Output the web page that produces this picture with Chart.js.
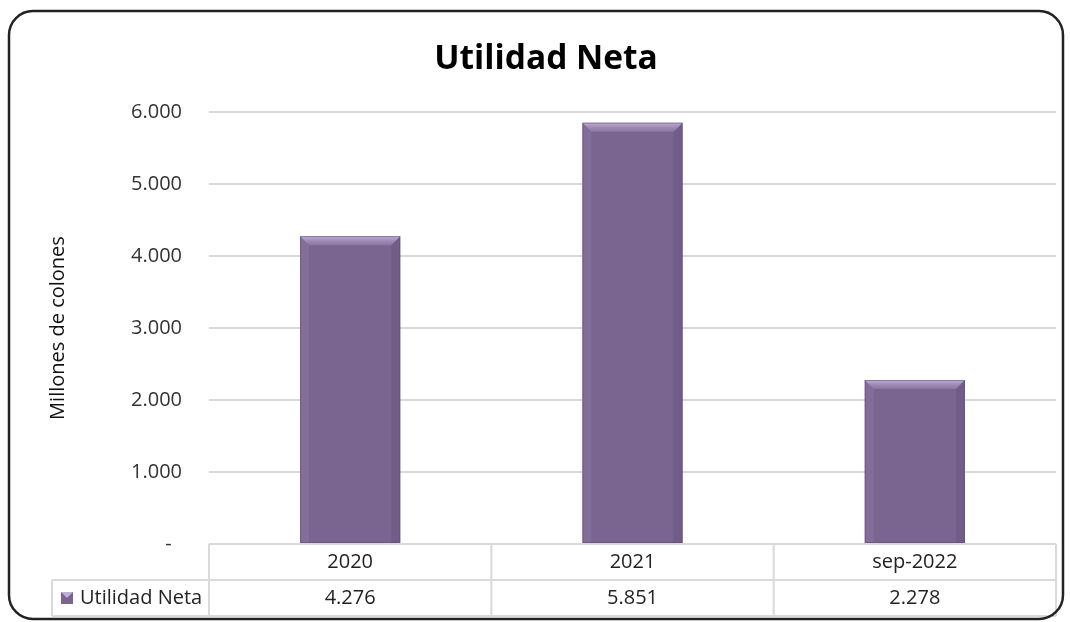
<!DOCTYPE html>
<html>
<head>
<meta charset="utf-8">
<script src="https://cdn.jsdelivr.net/npm/chart.js@4/dist/chart.umd.min.js"></script>
<style>
html, body { margin: 0; padding: 0; background: #fff; }
#wrap { width: 1070px; height: 622px; }
</style>
</head>
<body>
<div id="wrap"><canvas id="myChart" width="1070" height="622"></canvas></div>
<script>
const categories = ['2020', '2021', 'sep-2022'];
const utilidadNeta = [4276, 5851, 2278];
const seriesName = 'Utilidad Neta';
const chartTitle = 'Utilidad Neta';
const yAxisLabel = 'Millones de colones';
const yMax = 6000;
const yStep = 1000;

const FONT = '"Open Sans", "Noto Sans", sans-serif';
const barColor = '#7a6591';
const gridColor = '#d9d9d9';

function fmt(n) {
    if (n === 0) return '-  ';
    return String(Math.round(n)).replace(/\B(?=(\d{3})+(?!\d))/g, '.');
}

// bisel ligero sobre las barras
const bevelPlugin = {
    id: 'bevel',
    afterDatasetsDraw(chart) {
        const ctx = chart.ctx;
        const meta = chart.getDatasetMeta(0);
        meta.data.forEach(bar => {
            const l = bar.x - bar.width / 2, r = bar.x + bar.width / 2;
            const t = bar.y, b = bar.base, d = 9;
            ctx.save();
            const g = ctx.createLinearGradient(0, t, 0, t + d);
            g.addColorStop(0, 'rgba(215,200,235,0.75)');
            g.addColorStop(1, 'rgba(170,150,195,0.35)');
            ctx.fillStyle = g;
            ctx.beginPath();
            ctx.moveTo(l, t); ctx.lineTo(r, t); ctx.lineTo(r - d, t + d); ctx.lineTo(l + d, t + d);
            ctx.closePath(); ctx.fill();
            ctx.fillStyle = 'rgba(170,150,195,0.18)';
            ctx.beginPath();
            ctx.moveTo(l, t); ctx.lineTo(l + d, t + d); ctx.lineTo(l + d, b); ctx.lineTo(l, b);
            ctx.closePath(); ctx.fill();
            ctx.fillStyle = 'rgba(60,40,80,0.12)';
            ctx.beginPath();
            ctx.moveTo(r, t); ctx.lineTo(r - d, t + d); ctx.lineTo(r - d, b); ctx.lineTo(r, b);
            ctx.closePath(); ctx.fill();
            ctx.strokeStyle = 'rgba(90,70,110,0.5)';
            ctx.lineWidth = 1;
            ctx.strokeRect(l + 0.5, t + 0.5, bar.width - 1, b - t - 1);
            ctx.restore();
        });
    }
};

// tabla de datos, titulo y marco
const tablePlugin = {
    id: 'dataTable',
    afterDraw(chart) {
        const ctx = chart.ctx;
        const area = chart.chartArea;
        const xs = chart.scales.x;
        const colW = area.width / categories.length;
        const rowH = 36;
        const top = area.bottom;
        const mid = top + rowH;
        const bot = mid + rowH;
        const legendLeft = 52;

        ctx.save();
        ctx.strokeStyle = gridColor;
        ctx.lineWidth = 2;
        ctx.beginPath();
        ctx.moveTo(area.left, top); ctx.lineTo(area.right, top);
        ctx.moveTo(legendLeft, mid); ctx.lineTo(area.right, mid);
        ctx.moveTo(legendLeft, bot); ctx.lineTo(area.right, bot);
        ctx.moveTo(legendLeft, mid); ctx.lineTo(legendLeft, bot);
        for (let i = 0; i <= categories.length; i++) {
            const x = area.left + i * colW;
            ctx.moveTo(x, top); ctx.lineTo(x, bot);
        }
        ctx.stroke();

        ctx.fillStyle = '#222';
        ctx.font = '20px ' + FONT;
        ctx.textAlign = 'center';
        ctx.textBaseline = 'middle';
        categories.forEach((c, i) => {
            const x = xs.getPixelForValue(i);
            ctx.fillText(c, x, top + rowH / 2);
            ctx.fillText(fmt(utilidadNeta[i]), x, mid + rowH / 2);
        });

        // clave de la serie
        const kx = 61, ky = mid + rowH / 2 - 6;
        ctx.fillStyle = barColor;
        ctx.fillRect(kx, ky, 12, 12);
        ctx.fillStyle = 'rgba(205,190,230,0.85)';
        ctx.beginPath();
        ctx.moveTo(kx, ky); ctx.lineTo(kx + 12, ky); ctx.lineTo(kx + 6, ky + 6);
        ctx.closePath(); ctx.fill();
        ctx.fillStyle = '#222';
        ctx.textAlign = 'left';
        ctx.fillText(seriesName, 80, mid + rowH / 2);

        // titulo
        ctx.fillStyle = '#000';
        ctx.font = 'bold 33.5px ' + FONT;
        ctx.textAlign = 'center';
        ctx.textBaseline = 'alphabetic';
        ctx.fillText(chartTitle, 546, 69);

        // marco redondeado
        ctx.strokeStyle = '#222';
        ctx.lineWidth = 2.5;
        ctx.beginPath();
        ctx.roundRect(9, 11, 1054, 608, 24);
        ctx.stroke();
        ctx.restore();
    }
};

const ctx = document.getElementById('myChart').getContext('2d');
const chart = new Chart(ctx, {
    type: 'bar',
    data: {
        labels: categories,
        datasets: [{
            label: seriesName,
            data: utilidadNeta,
            backgroundColor: barColor,
            borderWidth: 0,
            barPercentage: 0.355,
            categoryPercentage: 1
        }]
    },
    options: {
        responsive: false,
        animation: false,
        layout: { padding: { left: 0, top: 112, right: 14, bottom: 78 } },
        plugins: {
            legend: { display: false },
            tooltip: { enabled: false },
            title: { display: false }
        },
        scales: {
            x: { display: false },
            y: {
                min: 0,
                max: yMax,
                afterFit(scale) { scale.width = 209; },
                ticks: {
                    stepSize: yStep,
                    padding: 27,
                    color: '#333',
                    font: { family: FONT, size: 20 },
                    callback: v => fmt(v)
                },
                grid: { color: gridColor, lineWidth: 2, drawTicks: false },
                border: { display: false },
                title: {
                    display: true,
                    text: yAxisLabel,
                    color: '#111',
                    font: { family: FONT, size: 20 },
                    padding: { top: 46, bottom: 0 }
                }
            }
        }
    },
    plugins: [bevelPlugin, tablePlugin]
});
</script>
</body>
</html>
